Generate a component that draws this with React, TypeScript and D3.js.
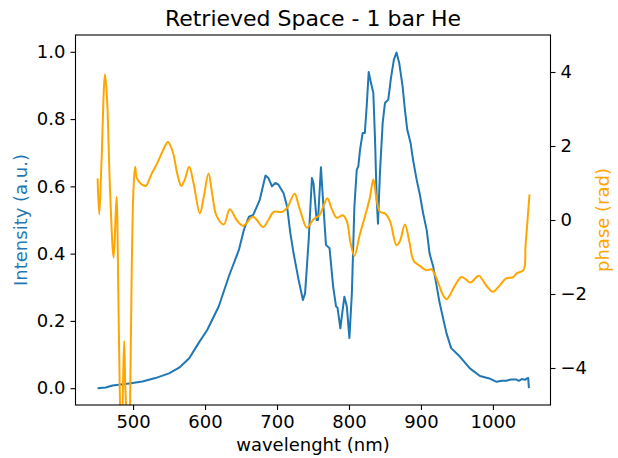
import React, { useEffect, useRef } from "react";
import * as d3 from "d3";

const title = "Retrieved Space - 1 bar He";
const xLabel = "wavelenght (nm)";
const yLeftLabel = "Intensity (a.u.)";
const yRightLabel = "phase (rad)";

const xTicks = [500, 600, 700, 800, 900, 1000];
const yLeftTicks = [0, 0.2, 0.4, 0.6, 0.8, 1.0];
const yRightTicks = [-4, -2, 0, 2, 4];

const intensityWl = [
  450.7, 462, 471.5, 497, 513, 531, 550, 564, 578, 591, 603, 619, 633, 647, 654, 661, 667, 676, 684, 688,
  693, 697.6, 702, 709, 714, 718.5, 723, 730, 736, 739, 744, 748.5, 750.7, 755, 757, 761, 764.5, 768, 773,
  778, 782, 784, 788, 790, 793.6, 797, 800.6, 804, 807.5, 810.8, 813, 815.4, 819, 822, 824.6, 827.4, 830.6,
  833.8, 836.2, 838.5, 840.3, 843, 846.8, 850, 854.6, 858.3, 862.4, 866, 869.8, 874.5, 877.7, 881, 885.6,
  889, 894, 898.5, 903, 908, 912, 917, 926, 935.5, 942, 954, 968, 982, 995, 1005, 1012, 1018.5, 1025, 1032,
  1036, 1040, 1045, 1047, 1049, 1050,
];
const intensityVal = [
  0.0, 0.002, 0.008, 0.015, 0.02, 0.03, 0.044, 0.061, 0.089, 0.134, 0.173, 0.243, 0.332, 0.411, 0.471, 0.51,
  0.515, 0.56, 0.632, 0.625, 0.6, 0.61, 0.605, 0.58, 0.54, 0.461, 0.401, 0.322, 0.262, 0.282, 0.441, 0.625,
  0.61, 0.5, 0.5, 0.657, 0.54, 0.426, 0.416, 0.302, 0.243, 0.24, 0.178, 0.213, 0.272, 0.243, 0.149, 0.282,
  0.54, 0.649, 0.66, 0.709, 0.759, 0.759, 0.838, 0.94, 0.907, 0.878, 0.739, 0.56, 0.489, 0.64, 0.788, 0.848,
  0.858, 0.922, 0.977, 0.998, 0.967, 0.897, 0.828, 0.768, 0.729, 0.679, 0.62, 0.575, 0.52, 0.47, 0.4, 0.362,
  0.253, 0.163, 0.119, 0.094, 0.059, 0.036, 0.029, 0.019, 0.022, 0.022, 0.026, 0.026, 0.022, 0.027, 0.025,
  0.029, 0.03, 0.0,
];

const phaseWl = [
  450.7, 453, 456, 461, 464, 468, 473, 477, 479.5, 482, 484, 486, 487.6, 489.2, 491.3, 493.5, 495.8, 498,
  500.5, 502.8, 505, 508.3, 513, 517.6, 525.5, 534, 542, 548.5, 555, 562, 567, 572, 578, 584, 592.8, 598,
  604.8, 610, 616, 626, 634.4, 644, 653, 666.8, 680.6, 688, 695.3, 707, 714, 724.4, 730, 734.6, 741.5, 750.7,
  759, 764, 770, 776, 783, 791.4, 797, 802, 807.5, 815, 823.7, 829, 833.8, 838, 843, 850, 857, 866, 870.8,
  877.7, 884, 890, 898.5, 907.7, 914.7, 919.3, 925, 930, 935.5, 941, 947, 956.2, 962, 968.7, 980.6, 990,
  1000, 1008, 1018.5, 1027.7, 1033, 1042.5, 1045.3, 1050.8,
];
const phaseVal = [
  1.12, 0.15, 1.5, 3.94, 3.2, 0.8, -1.02, 0.63, -2.0, -5.2, -6.5, -4.5, -3.27, -4.5, -5.5, -6.5, -5.0, -1.5,
  0.8, 1.44, 1.15, 1.03, 0.95, 0.92, 1.24, 1.55, 1.9, 2.11, 1.85, 1.2, 0.92, 1.1, 1.44, 1.0, 0.18, 0.6, 1.26,
  0.7, 0.11, -0.12, 0.29, 0.0, -0.16, 0.09, -0.19, 0.0, 0.22, 0.22, 0.33, 0.71, 0.4, 0.11, -0.21, 0.02, 0.13,
  0.35, 0.59, 0.3, 0.06, 0.13, -0.03, -0.6, -0.97, -0.4, 0.2, 0.6, 1.1, 0.6, 0.22, 0.18, -0.03, -0.68, -0.57,
  -0.12, -0.6, -1.11, -1.24, -1.36, -1.33, -1.47, -1.75, -2.0, -2.14, -2.0, -1.78, -1.54, -1.6, -1.69, -1.51,
  -1.75, -1.94, -1.8, -1.58, -1.55, -1.44, -1.35, -0.7, 0.69,
];

const W = 618;
const H = 458;
const M = { left: 75.5, right: 550.5, top: 35, bottom: 405 };
const BLUE = "#1f77b4";
const ORANGE = "#ffa500";
const FONT = "DejaVu Sans, sans-serif";

export default function App() {
  const ref = useRef<SVGSVGElement | null>(null);

  useEffect(() => {
    const svg = d3.select(ref.current);
    svg.selectAll("*").remove();

    const x = d3.scaleLinear().domain([420, 1080]).range([M.left, M.right]);
    const yL = d3.scaleLinear().domain([-0.05, 1.05]).range([M.bottom, M.top]);
    const yR = d3.scaleLinear().domain([-5, 5]).range([M.bottom, M.top]);

    svg.append("rect").attr("width", W).attr("height", H).attr("fill", "white");

    svg
      .append("defs")
      .append("clipPath")
      .attr("id", "plotclip")
      .append("rect")
      .attr("x", M.left)
      .attr("y", M.top)
      .attr("width", M.right - M.left)
      .attr("height", M.bottom - M.top);

    const g = svg.append("g").attr("clip-path", "url(#plotclip)");

    const blueData = intensityWl.map((w, i) => [w, intensityVal[i]] as [number, number]);
    const orangeData = phaseWl.map((w, i) => [w, phaseVal[i]] as [number, number]);

    const lineL = d3
      .line<[number, number]>()
      .x((d) => x(d[0]))
      .y((d) => yL(d[1]));
    const lineR = d3
      .line<[number, number]>()
      .x((d) => x(d[0]))
      .y((d) => yR(d[1]))
      .curve(d3.curveCatmullRom.alpha(0.5));

    g.append("path")
      .datum(blueData)
      .attr("d", lineL)
      .attr("fill", "none")
      .attr("stroke", BLUE)
      .attr("stroke-width", 2)
      .attr("stroke-linejoin", "round");

    g.append("path")
      .datum(orangeData)
      .attr("d", lineR)
      .attr("fill", "none")
      .attr("stroke", ORANGE)
      .attr("stroke-width", 2)
      .attr("stroke-linejoin", "round");

    svg
      .append("rect")
      .attr("x", M.left)
      .attr("y", M.top)
      .attr("width", M.right - M.left)
      .attr("height", M.bottom - M.top)
      .attr("fill", "none")
      .attr("stroke", "black")
      .attr("stroke-width", 1.1);

    const fmtMinus = (s: string) => s.replace("-", "\u2212");

    const xAxis = d3
      .axisBottom(x)
      .tickValues(xTicks)
      .tickSize(5)
      .tickPadding(5)
      .tickFormat((d) => String(d));
    const ax = svg.append("g").attr("transform", `translate(0,${M.bottom})`).call(xAxis);

    const yAxisL = d3
      .axisLeft(yL)
      .tickValues(yLeftTicks)
      .tickSize(5)
      .tickPadding(5)
      .tickFormat((d) => d3.format(".1f")(d as number));
    const ayl = svg.append("g").attr("transform", `translate(${M.left},0)`).call(yAxisL);

    const yAxisR = d3
      .axisRight(yR)
      .tickValues(yRightTicks)
      .tickSize(5)
      .tickPadding(5)
      .tickFormat((d) => fmtMinus(String(d)));
    const ayr = svg.append("g").attr("transform", `translate(${M.right},0)`).call(yAxisR);

    [ax, ayl, ayr].forEach((a) => {
      a.select(".domain").remove();
      a.selectAll("line").attr("stroke", "black").attr("stroke-width", 1.1);
      a.selectAll("text").attr("font-family", FONT).attr("font-size", 18).attr("fill", "black");
    });

    svg
      .append("text")
      .attr("x", (M.left + M.right) / 2)
      .attr("y", 26)
      .attr("text-anchor", "middle")
      .attr("font-family", FONT)
      .attr("font-size", 22)
      .attr("fill", "black")
      .text(title);

    svg
      .append("text")
      .attr("x", (M.left + M.right) / 2)
      .attr("y", 451)
      .attr("text-anchor", "middle")
      .attr("font-family", FONT)
      .attr("font-size", 18)
      .attr("fill", "black")
      .text(xLabel);

    svg
      .append("text")
      .attr("transform", `translate(27,${(M.top + M.bottom) / 2}) rotate(-90)`)
      .attr("text-anchor", "middle")
      .attr("font-family", FONT)
      .attr("font-size", 18)
      .attr("fill", BLUE)
      .text(yLeftLabel);

    svg
      .append("text")
      .attr("transform", `translate(609,${(M.top + M.bottom) / 2}) rotate(-90)`)
      .attr("text-anchor", "middle")
      .attr("font-family", FONT)
      .attr("font-size", 18)
      .attr("fill", ORANGE)
      .text(yRightLabel);
  }, []);

  return (
    <svg
      ref={ref}
      width={W}
      height={H}
      style={{ position: "absolute", left: 0, top: 0, display: "block" }}
    />
  );
}
